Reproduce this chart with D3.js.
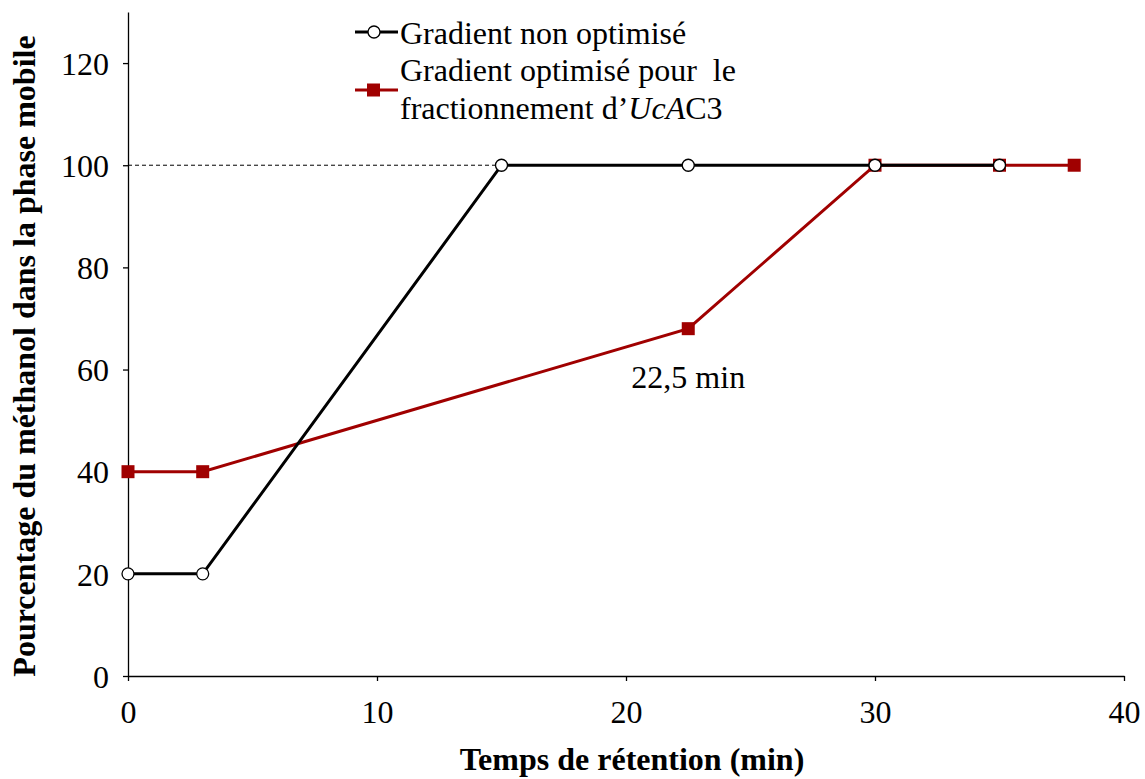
<!DOCTYPE html>
<html><head><meta charset="utf-8">
<script src="https://cdn.jsdelivr.net/npm/d3@7"></script>
<style>body{margin:0;background:#fff}svg{display:block}text{font-family:"Liberation Serif","Times New Roman",serif}</style>
</head><body><svg id="c" width="1145" height="779"></svg>
<script>
const timeNonOpt = [0, 3, 15, 22.5, 30, 35];
const valNonOpt  = [20, 20, 100, 100, 100, 100];
const timeOpt    = [0, 3, 22.5, 30, 35, 38];
const valOpt     = [40, 40, 68, 100, 100, 100];
const xTicks = [0, 10, 20, 30, 40];
const yTicks = [0, 20, 40, 60, 80, 100, 120];
const seriesNames = ["Gradient non optimisé", "Gradient optimisé pour  le", "fractionnement d’"];

const svg = d3.select("#c");
const x = d3.scaleLinear().domain([0, 40]).range([128, 1124]);
const y = d3.scaleLinear().domain([0, 130]).range([676, 12]);

// axes
const gx = svg.append("g").attr("transform", "translate(0,676)")
  .call(d3.axisBottom(x).tickValues(xTicks).tickSize(5).tickPadding(13).tickSizeOuter(0));
const gy = svg.append("g").attr("transform", "translate(128,0)")
  .call(d3.axisLeft(y).tickValues(yTicks).tickSize(5).tickPadding(14).tickSizeOuter(0));
[gx, gy].forEach(g => {
  g.select(".domain").attr("stroke", "#000").attr("stroke-width", 1.3);
  g.selectAll(".tick line").attr("stroke", "#000").attr("stroke-width", 1.3);
  g.selectAll(".tick text").attr("font-size", 32).attr("fill", "#000")
    .style("font-family", '"Liberation Serif",serif');
});
gx.selectAll(".tick text").attr("dy", "0.9em");
gy.selectAll(".tick text").attr("dy", "0.35em");

// dashed ref line at 100
svg.append("line").attr("x1", x(0)).attr("x2", x(15)).attr("y1", y(100)).attr("y2", y(100))
  .attr("stroke", "#000").attr("stroke-width", 1).attr("stroke-dasharray", "4,3");

const line = d3.line().x(d => x(d[0])).y(d => y(d[1]));
const dOpt = timeOpt.map((t, i) => [t, valOpt[i]]);
const dNon = timeNonOpt.map((t, i) => [t, valNonOpt[i]]);

svg.append("path").attr("d", line(dOpt)).attr("fill", "none").attr("stroke", "#a00000").attr("stroke-width", 3);
svg.selectAll(".sq").data(dOpt).enter().append("rect")
  .attr("x", d => x(d[0]) - 6.5).attr("y", d => y(d[1]) - 6.5).attr("width", 13).attr("height", 13)
  .attr("fill", "#a00000");

svg.append("path").attr("d", line(dNon)).attr("fill", "none").attr("stroke", "#000").attr("stroke-width", 3);
svg.selectAll(".ci").data(dNon).enter().append("circle")
  .attr("cx", d => x(d[0])).attr("cy", d => y(d[1])).attr("r", 6)
  .attr("fill", "#fff").attr("stroke", "#000").attr("stroke-width", 1.3);

// annotation
svg.append("text").attr("x", x(22.5)).attr("y", 388).attr("text-anchor", "middle")
  .attr("font-size", 32).text("22,5 min");

// legend
svg.append("line").attr("x1", 355).attr("x2", 398).attr("y1", 32).attr("y2", 32).attr("stroke", "#000").attr("stroke-width", 3);
svg.append("circle").attr("cx", 374).attr("cy", 32).attr("r", 6).attr("fill", "#fff").attr("stroke", "#000").attr("stroke-width", 1.3);
svg.append("text").attr("x", 400).attr("y", 44).attr("font-size", 32).text(seriesNames[0]);
svg.append("line").attr("x1", 355).attr("x2", 398).attr("y1", 90).attr("y2", 90).attr("stroke", "#a00000").attr("stroke-width", 3);
svg.append("rect").attr("x", 367).attr("y", 83.5).attr("width", 13).attr("height", 13).attr("fill", "#a00000");
svg.append("text").attr("x", 400).attr("y", 81).attr("font-size", 32).style("white-space", "pre").text(seriesNames[1]);
const t3 = svg.append("text").attr("x", 400).attr("y", 119).attr("font-size", 32);
t3.append("tspan").text(seriesNames[2]);
t3.append("tspan").attr("font-style", "italic").text("UcA");
t3.append("tspan").text("C3");

// axis titles
svg.append("text").attr("x", x(20) + 6).attr("y", 770).attr("text-anchor", "middle")
  .attr("font-size", 32).attr("font-weight", "bold").text("Temps de rétention (min)");
svg.append("text").attr("transform", "translate(35,356) rotate(-90)").attr("text-anchor", "middle")
  .attr("font-size", 32).attr("font-weight", "bold").text("Pourcentage du méthanol dans la phase mobile");
</script></body></html>
